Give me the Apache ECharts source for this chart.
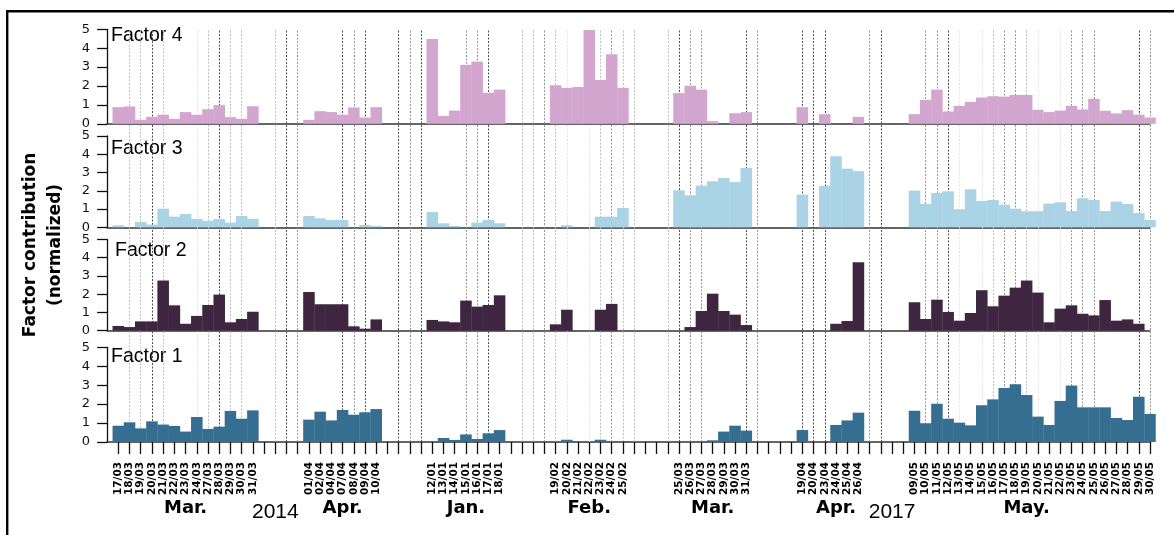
<!DOCTYPE html>
<html>
<head>
<meta charset="utf-8">
<script src="https://cdn.jsdelivr.net/npm/echarts@6/dist/echarts.min.js"></script>
<style>
  html, body { margin: 0; padding: 0; background: #fff; }
  #chart { width: 1174px; height: 535px; }
</style>
</head>
<body>
<div id="chart"></div>
<script>
// Sampling days in axis order; '' marks the empty slots between campaigns.
const dates = [
  '17/03','18/03','19/03','20/03','21/03','22/03','23/03','24/03','27/03','28/03','29/03','30/03','31/03',
  '','','','',
  '01/04','02/04','04/04','07/04','08/04','09/04','10/04',
  '','','','',
  '12/01','13/01','14/01','15/01','16/01','17/01','18/01',
  '','','','',
  '19/02','20/02','21/02','22/02','23/02','24/02','25/02',
  '','','','',
  '25/03','26/03','27/03','28/03','29/03','30/03','31/03',
  '','','','',
  '19/04','20/04','23/04','24/04','25/04','26/04',
  '','','','',
  '09/05','10/05','11/05','12/05','13/05','14/05','15/05','16/05','17/05','18/05','19/05',
  '20/05','21/05','22/05','23/05','24/05','25/05','26/05','27/05','28/05','29/05','30/05'
];

const months = ['Mar.', 'Apr.', 'Jan.', 'Feb.', 'Mar.', 'Apr.', 'May.'];
const years = ['2014', '2017'];

// Normalized factor contributions, one value per slot of `dates` (null = no sample).
const factor4 = [
  0.88,0.92,0.21,0.37,0.48,0.26,0.62,0.48,0.77,0.99,0.35,0.26,0.93,
  null,null,null,null,
  0.21,0.67,0.62,0.48,0.86,0.33,0.88,
  null,null,null,null,
  4.49,0.42,0.70,3.12,3.29,1.64,1.81,
  null,null,null,null,
  2.04,1.90,1.95,4.96,2.32,3.68,1.90,
  null,null,null,null,
  1.62,2.01,1.81,0.14,0,0.56,0.62,
  null,null,null,null,
  0.88,0,0.51,0,0,0.37,
  null,null,null,null,
  0.51,1.27,1.81,0.65,0.95,1.16,1.39,1.46,1.44,1.53,1.53,
  0.74,0.62,0.70,0.95,0.76,1.32,0.69,0.55,0.72,0.48,0.33
];

const factor3 = [
  0.11,0,0.29,0.15,1.02,0.58,0.73,0.46,0.36,0.46,0.26,0.62,0.46,
  null,null,null,null,
  0.62,0.49,0.40,0.40,0,0.13,0.07,
  null,null,null,null,
  0.84,0.22,0.07,0,0.26,0.40,0.22,
  null,null,null,null,
  0,0.11,0,0,0.58,0.58,1.06,
  null,null,null,null,
  2.03,1.75,2.28,2.52,2.70,2.48,3.25,
  null,null,null,null,
  1.79,0,2.26,3.89,3.21,3.08,
  null,null,null,null,
  2.01,1.28,1.88,1.97,0.99,2.08,1.44,1.50,1.24,1.02,0.88,
  0.88,1.30,1.37,0.89,1.59,1.50,0.89,1.41,1.28,0.78,0.40
];

const factor2 = [
  0.26,0.20,0.51,0.51,2.75,1.39,0.38,0.81,1.41,1.98,0.46,0.64,1.04,
  null,null,null,null,
  2.12,1.45,1.45,1.45,0.24,0.11,0.62,
  null,null,null,null,
  0.59,0.51,0.46,1.65,1.32,1.41,1.94,
  null,null,null,null,
  0.35,1.15,0,0,1.15,1.47,0,
  null,null,null,null,
  0,0.20,1.08,2.03,1.08,0.88,0.31,
  null,null,null,null,
  0,0,0,0.38,0.53,3.75,
  null,null,null,null,
  1.56,0.64,1.70,1.03,0.55,0.97,2.22,1.34,1.92,2.36,2.75,
  2.09,0.46,1.21,1.39,0.93,0.84,1.68,0.55,0.62,0.38,0
];

const factor1 = [
  0.86,1.04,0.72,1.09,0.92,0.85,0.55,1.32,0.69,0.81,1.64,1.23,1.67,
  null,null,null,null,
  1.18,1.60,1.14,1.69,1.44,1.57,1.74,
  null,null,null,null,
  0,0.21,0.11,0.40,0.16,0.46,0.63,
  null,null,null,null,
  0,0.12,0,0,0.12,0,0.05,
  null,null,null,null,
  0,0,0,0.09,0.55,0.86,0.60,
  null,null,null,null,
  0.63,0,0,0.90,1.14,1.55,
  null,null,null,null,
  1.65,0.99,2.02,1.23,1.02,0.88,1.94,2.25,2.85,3.05,2.48,
  1.34,0.90,2.17,2.98,1.83,1.83,1.83,1.27,1.16,2.39,1.48
];

// Slots carrying a dotted reference line, and how dark each one is (0 faint .. 3 dark).
const markerSlots = [1,2,3,4,7,8,9,10,11,14,15,16,20,21,22,25,26,27,31,32,33,36,37,38,39,40,42,43,44,45,46,49,50,51,52,56,57,61,62,63,67,68,72,73,74,75,77,78,79,80,81,82,84,85,86,87,91,92];
const markerTone  = [1,1,3,1,0,1,3,1,1,1,3,2,3,2,3,3,2,3,2,2,3,1,1,2,1,0,0,1,2,1,1,1,3,2,2,3,2,3,3,3,2,3,2,2,3,0,0,1,2,2,1,0,0,2,2,2,3,2];

// ---- layout ----
const categories = [''].concat(dates);          // leading slot sits on the y axis
const toneColors = ['#e4e4e4', '#c0c0c0', '#959595', '#505050'];
const plotLeft = 107.1;
const plotWidth = 1042.9;

const panels = [
  { name: 'Factor 4', values: factor4, color: '#d3a6cf', top: 29.3,  height: 94.5, labelX: 111, labelTop: 25.5 },
  { name: 'Factor 3', values: factor3, color: '#aad3e5', top: 136.0, height: 91.3, labelX: 111, labelTop: 139.0 },
  { name: 'Factor 2', values: factor2, color: '#3e2640', top: 239.5, height: 91.2, labelX: 115, labelTop: 240.5 },
  { name: 'Factor 1', values: factor1, color: '#366e92', top: 347.3, height: 94.7, labelX: 111, labelTop: 346.5 }
];

const grid = [], xAxis = [], yAxis = [], series = [];
panels.forEach((p, i) => {
  const isBottom = i === panels.length - 1;
  grid.push({ left: plotLeft, width: plotWidth, top: p.top, height: p.height, outerBoundsMode: 'none' });
  xAxis.push({
    type: 'category', gridIndex: i, data: categories, boundaryGap: false,
    axisLine: { show: true, onZero: false, lineStyle: { color: '#333', width: 1.5 } },
    axisTick: { show: isBottom, length: 12, interval: (idx) => idx > 0, lineStyle: { color: '#111', width: 1.3 } },
    axisLabel: {
      show: isBottom, interval: 0, rotate: 90, margin: 20,
      fontFamily: 'DejaVu Sans', fontWeight: 'bold', fontSize: 10.5, color: '#000'
    },
    splitLine: { show: false }
  });
  yAxis.push({
    type: 'value', gridIndex: i, min: 0, max: 5, interval: 1,
    axisLine: { show: true, lineStyle: { color: '#111', width: 1.3 } },
    axisTick: { show: true, length: 10, lineStyle: { color: '#111', width: 1.3 } },
    axisLabel: { margin: 17, fontSize: 13, color: '#111', fontFamily: 'DejaVu Sans' },
    splitLine: { show: false }
  });
  series.push({
    type: 'bar', name: p.name, xAxisIndex: i, yAxisIndex: i,
    data: [null].concat(p.values),
    barWidth: '103%', clip: false, z: 3,
    itemStyle: { color: p.color },
    emphasis: { disabled: true }
  });
});

// Full-height overlay carrying the dotted day markers, kept behind the bars.
grid.push({ left: plotLeft, width: plotWidth, top: 29.3, height: 412.7, outerBoundsMode: 'none' });
xAxis.push({ type: 'category', gridIndex: 4, data: categories, boundaryGap: false, show: false });
yAxis.push({ type: 'value', gridIndex: 4, min: 0, max: 1, show: false });
series.push({
  type: 'line', xAxisIndex: 4, yAxisIndex: 4, z: 1,
  data: categories.map(() => null), symbol: 'none',
  markLine: {
    silent: true, symbol: 'none', animation: false, z: 1,
    label: { show: false },
    emphasis: { disabled: true },
    data: markerSlots.map((s, k) => ({
      xAxis: s + 1,
      lineStyle: { color: toneColors[markerTone[k]], type: [2, 1.5], width: 1 }
    }))
  }
});

const graphic = [
  { type: 'line', shape: { x1: 6, y1: 11.2, x2: 1174, y2: 11.2 }, style: { stroke: '#000', lineWidth: 2.4 } },
  { type: 'line', shape: { x1: 7.2, y1: 10, x2: 7.2, y2: 535 }, style: { stroke: '#000', lineWidth: 2.4 } },
  {
    type: 'text', x: 43.5, y: 245, rotation: Math.PI / 2,
    style: {
      text: 'Factor contribution\n(normalized)', fontFamily: 'DejaVu Sans', fontWeight: 'bold',
      fontSize: 17, lineHeight: 25, fill: '#000', align: 'center', verticalAlign: 'middle'
    }
  }
];
panels.forEach(p => {
  graphic.push({
    type: 'text', x: p.labelX, y: p.labelTop,
    style: { text: p.name, fontFamily: 'Liberation Sans', fontSize: 19.5, fill: '#000', align: 'left', verticalAlign: 'top' }
  });
});

const chart = echarts.init(document.getElementById('chart'), null, { renderer: 'canvas' });
chart.setOption({
  animation: false,
  backgroundColor: '#fff',
  textStyle: { fontFamily: 'Liberation Sans' },
  grid, xAxis, yAxis, series, graphic
});

// Month and year captions under the date labels, placed through the bottom axis.
const monthSlot = [6, 20, 31, 42, 53, 63.5, 80.8];
const yearSlot = [13.6, 69.0];
const captions = [];
months.forEach((m, k) => {
  const x = chart.convertToPixel({ xAxisIndex: 3 }, monthSlot[k] + 1);
  captions.push({
    type: 'text', x: x, y: 508,
    style: { text: m, fontFamily: 'DejaVu Sans', fontWeight: 'bold', fontSize: 18, fill: '#000', align: 'center', verticalAlign: 'middle' }
  });
});
years.forEach((yv, k) => {
  const x = chart.convertToPixel({ xAxisIndex: 3 }, yearSlot[k] + 1);
  captions.push({
    type: 'text', x: x, y: 512,
    style: { text: yv, fontFamily: 'Liberation Sans', fontSize: 21, fill: '#000', align: 'center', verticalAlign: 'middle' }
  });
});
chart.setOption({ graphic: graphic.concat(captions) });
</script>
</body>
</html>
